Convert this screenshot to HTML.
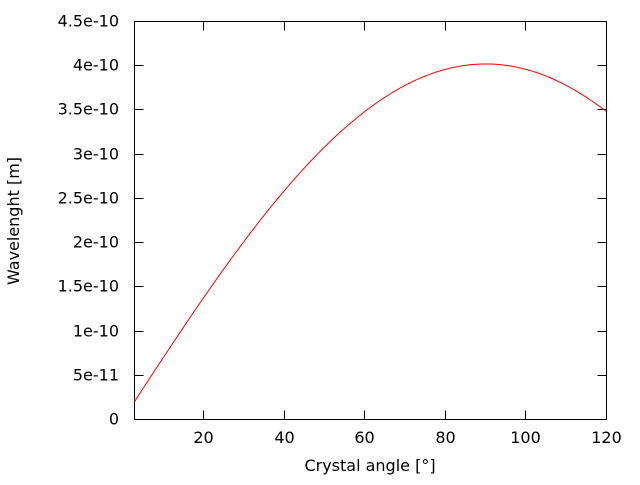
<!DOCTYPE html>
<html><head><meta charset="utf-8"><style>
html,body{margin:0;padding:0;background:#fff;}
svg text{font-family:"DejaVu Sans",sans-serif;font-size:16px;fill:#000;}
</style></head><body>
<svg id="s" width="640" height="480" xmlns="http://www.w3.org/2000/svg">
<rect x="0" y="0" width="640" height="480" fill="#fff"/>
<g id="ticks" stroke="#000" stroke-width="1"></g>
<rect x="134.5" y="21.5" width="472" height="398" fill="none" stroke="#000" stroke-width="1"/>
<g id="lbl"></g>
<path id="curve" fill="none" stroke="#f00" stroke-width="1"/>
<text x="370" y="471" text-anchor="middle">Crystal angle [°]</text>
<text transform="translate(19,221) rotate(-90)" text-anchor="middle">Wavelenght [m]</text>
</svg>
<script>
var L=134.5,R=606.5,T=21.5,B=419.5;
var xmin=2.88,xmax=120,ymax=4.5e-10;
function X(v){return L+(v-xmin)/(xmax-xmin)*(R-L);}
function Y(v){return B-v/ymax*(B-T);}
var g=document.getElementById('ticks'),lb=document.getElementById('lbl'),ns="http://www.w3.org/2000/svg";
function line(x1,y1,x2,y2){var l=document.createElementNS(ns,'line');l.setAttribute('x1',x1);l.setAttribute('y1',y1);l.setAttribute('x2',x2);l.setAttribute('y2',y2);g.appendChild(l);}
function txt(x,y,s,a){var t=document.createElementNS(ns,'text');t.setAttribute('x',x);t.setAttribute('y',y);t.setAttribute('text-anchor',a);t.textContent=s;lb.appendChild(t);}
var yl=["0","5e-11","1e-10","1.5e-10","2e-10","2.5e-10","3e-10","3.5e-10","4e-10","4.5e-10"];
for(var i=0;i<10;i++){var y=B-i*(B-T)/9;y=Math.round(y-0.5)+0.5;
line(L,y,L+9,y);line(R,y,R-9,y);txt(119,y+5,yl[i],'end');}
for(var v=20;v<=120;v+=20){var x=Math.round(X(v)-0.5)+0.5;line(x,B,x,B-9);line(x,T,x,T+9);txt(x,443,String(v),'middle');}
var d="";for(var v=xmin;v<=120.001;v+=0.5){var yy=4.02e-10*Math.sin(v*Math.PI/180);d+=(d?"L":"M")+X(v).toFixed(2)+","+Y(yy).toFixed(2);}
document.getElementById('curve').setAttribute('d',d);
</script>
</body></html>
